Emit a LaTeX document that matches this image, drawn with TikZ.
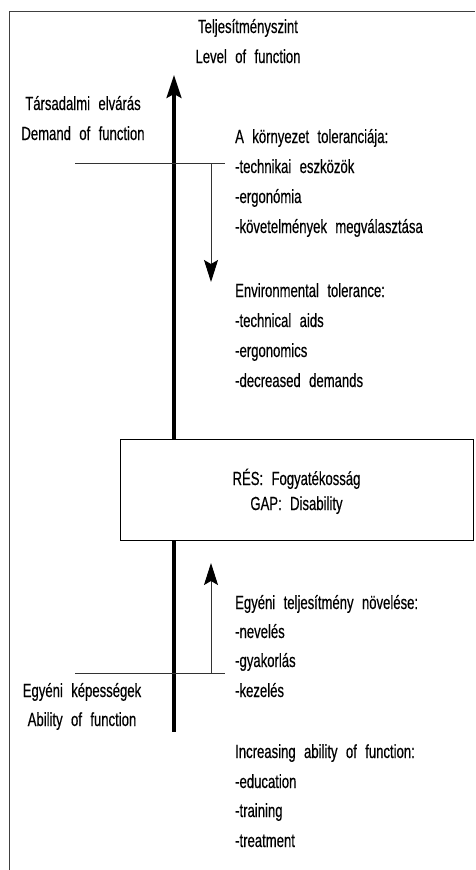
\documentclass[tikz,border=0pt]{standalone}
\usepackage{fontspec}
\setmainfont{Liberation Sans}[FakeStretch=0.69, WordSpace=2.3, FakeBold=0.4]
\usetikzlibrary{arrows.meta}
\begin{document}
\begin{tikzpicture}[x=1pt, y=-1pt,
  every node/.style={inner sep=0pt, font=\fontsize{19}{25}\selectfont},
  ltxt/.style={anchor=base west},
  ctxt/.style={anchor=base},
  frameline/.style={draw=black!75, line width=1pt},
  thinline/.style={draw=black!80, line width=1pt},
  axisline/.style={draw=black, line width=3.2pt},
  bigtip/.style={-{Stealth[length=23pt, width=15pt, inset=4pt]}},
  smalltip/.style={-{Stealth[length=22pt, width=14pt, inset=4pt, color=black]}},
  gapbox/.style={draw=black, line width=1pt, minimum width=353pt, minimum height=101pt, align=center}
]
\useasboundingbox (0,0) rectangle (475,870);
\draw[frameline] (9,870) -- (9,11) -- (475,11);

% central box
\node[gapbox] (gap) at (296.5,489.5) {\rule{0pt}{20pt}RÉS: Fogyatékosság\\GAP: Disability};

% main axis
\coordinate (lvl) at (174,75);
\coordinate (abl) at (174,732);
\draw[axisline, bigtip] (gap.north -| lvl) -- (lvl);
\draw[axisline] (gap.south -| abl) -- (abl);

% top labels
\node[ctxt] (t1) at (248,33) {Teljesítményszint};
\node[ctxt] (t2) at (248,63) {Level of function};
\node[ctxt] (d1) at (83,110) {Társadalmi elvárás};
\node[ctxt] (d2) at (83,140) {Demand of function};

% demand line and tolerance arrow
\coordinate (dl) at (75,163);
\coordinate (dr) at (225,163);
\coordinate (dv) at (211,163);
\coordinate (dvend) at (211,282);
\draw[thinline] (dl) -- (dr);
\draw[thinline, smalltip] (dv) -- (dvend);

\node[ltxt] (e1) at (235,143) {A környezet toleranciája:};
\node[ltxt] (e2) at (235,173) {-technikai eszközök};
\node[ltxt] (e3) at (235,203) {-ergonómia};
\node[ltxt] (e4) at (235,233) {-követelmények megválasztása};
\node[ltxt] (e5) at (235,297) {Environmental tolerance:};
\node[ltxt] (e6) at (235,327) {-technical aids};
\node[ltxt] (e7) at (235,357) {-ergonomics};
\node[ltxt] (e8) at (235,387) {-decreased demands};

% ability line and arrow
\coordinate (al) at (75,673);
\coordinate (ar) at (225,673);
\coordinate (av) at (211,673);
\coordinate (avend) at (211,563);
\draw[thinline] (al) -- (ar);
\draw[thinline, smalltip] (av) -- (avend);

\node[ltxt] (i1) at (235,609) {Egyéni teljesítmény növelése:};
\node[ltxt] (i2) at (235,638) {-nevelés};
\node[ltxt] (i3) at (235,667) {-gyakorlás};
\node[ltxt] (i4) at (235,697) {-kezelés};
\node[ctxt] (a1) at (82,697) {Egyéni képességek};
\node[ctxt] (a2) at (82,726) {Ability of function};
\node[ltxt] (i5) at (235,758) {Increasing ability of function:};
\node[ltxt] (i6) at (235,788) {-education};
\node[ltxt] (i7) at (235,817) {-training};
\node[ltxt] (i8) at (235,847) {-treatment};
\end{tikzpicture}
\end{document}
